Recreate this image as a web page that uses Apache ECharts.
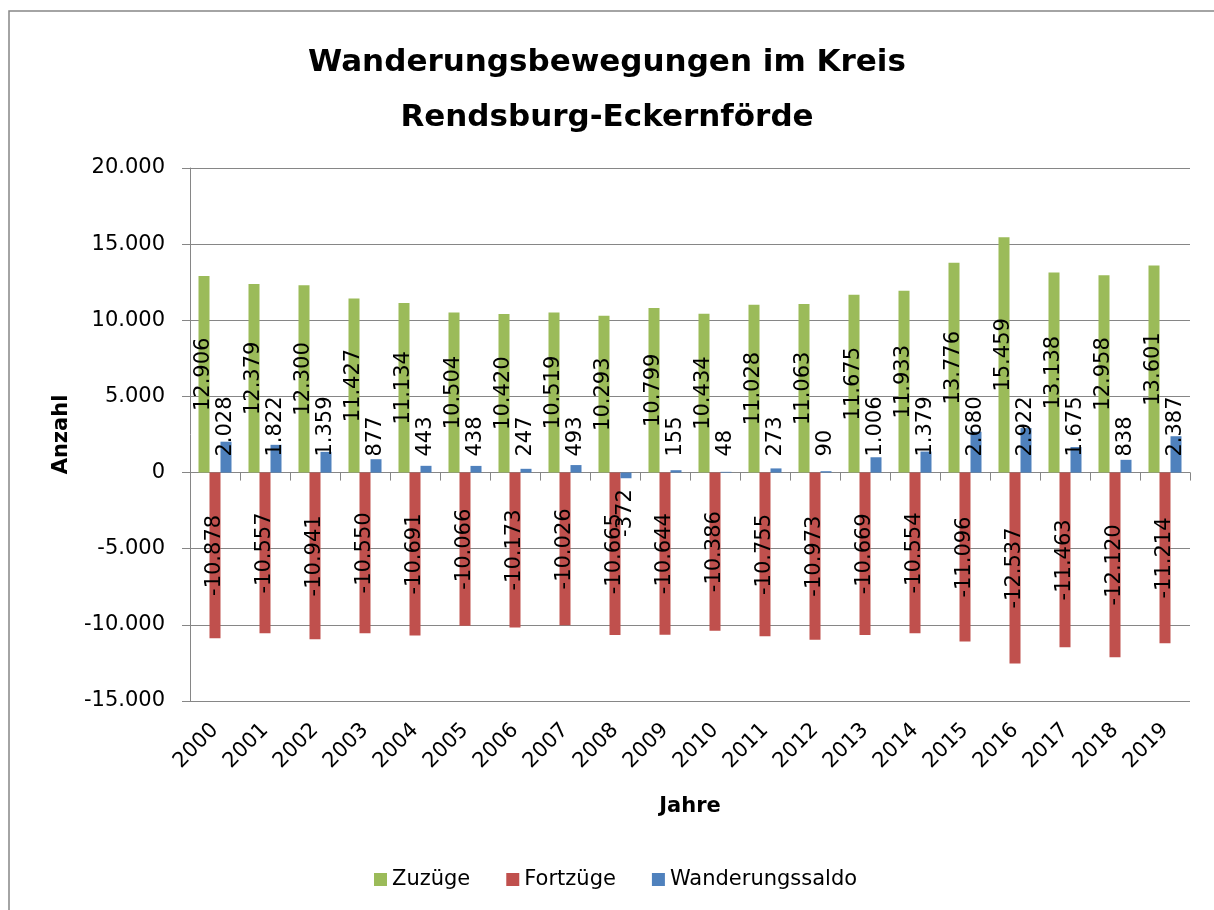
<!DOCTYPE html>
<html>
<head>
<meta charset="utf-8">
<script src="https://cdn.jsdelivr.net/npm/echarts@6/dist/echarts.min.js"></script>
<style>
  html, body { margin: 0; padding: 0; background: #fff; }
  #chart { width: 1214px; height: 910px; }
</style>
</head>
<body>
<div id="chart"></div>
<script>
const years = ['2000','2001','2002','2003','2004','2005','2006','2007','2008','2009','2010','2011','2012','2013','2014','2015','2016','2017','2018','2019'];
const zuzuege = [12906, 12379, 12300, 11427, 11134, 10504, 10420, 10519, 10293, 10799, 10434, 11028, 11063, 11675, 11933, 13776, 15459, 13138, 12958, 13601];
const fortzuege = [-10878, -10557, -10941, -10550, -10691, -10066, -10173, -10026, -10665, -10644, -10386, -10755, -10973, -10669, -10554, -11096, -12537, -11463, -12120, -11214];
const saldo = [2028, 1822, 1359, 877, 443, 438, 247, 493, -372, 155, 48, 273, 90, 1006, 1379, 2680, 2922, 1675, 838, 2387];
const seriesNames = ['Zuzüge', 'Fortzüge', 'Wanderungssaldo'];
const titleLines = ['Wanderungsbewegungen im Kreis', 'Rendsburg-Eckernförde'];

function fmt(v) {
  const s = Math.abs(v).toString().replace(/\B(?=(\d{3})+(?!\d))/g, '.');
  return (v < 0 ? '-' : '') + s;
}

const FONT = 'DejaVu Sans';
const GRAY = '#868686';
const chart = echarts.init(document.getElementById('chart'), null, { renderer: 'canvas' });

const saldoData = saldo.map(v => v < 0
  ? { value: v, label: { position: 'bottom', align: 'right', distance: 11 } }
  : v);

const option = {
  animation: false,
  backgroundColor: '#fff',
  textStyle: { fontFamily: FONT, color: '#000' },
  graphic: [{
    type: 'rect', z: -10, silent: true,
    shape: { x: 9, y: 11, width: 1300, height: 1000 },
    style: { fill: 'none', stroke: GRAY, lineWidth: 1.5 }
  }],
  title: {
    text: titleLines.join('\n'),
    left: 'center', top: 35, padding: 0,
    textStyle: { fontFamily: FONT, fontSize: 31, fontWeight: 'bold', color: '#000', lineHeight: 55 }
  },
  legend: {
    data: seriesNames,
    left: 374, top: 869, padding: 0,
    itemWidth: 13, itemHeight: 13, itemGap: 36,
    icon: 'rect',
    textStyle: { fontFamily: FONT, fontSize: 21, color: '#000' }
  },
  grid: { left: 190, right: 24, top: 168, bottom: 209, containLabel: false },
  xAxis: [{
    type: 'category', data: years, position: 'bottom',
    axisLine: { show: false, onZero: false },
    axisTick: { show: false },
    axisLabel: { rotate: 45, fontSize: 21, fontFamily: FONT, color: '#000', margin: 26, interval: 0 },
    name: 'Jahre', nameLocation: 'middle', nameGap: 95,
    nameTextStyle: { fontFamily: FONT, fontSize: 21, fontWeight: 'bold', color: '#000' }
  }, {
    type: 'category', data: years, position: 'bottom',
    axisLine: { show: true, onZero: true, lineStyle: { color: GRAY, width: 1 } },
    axisTick: { show: true, length: 8, lineStyle: { color: GRAY } },
    axisLabel: { show: false }
  }],
  yAxis: {
    type: 'value', min: -15000, max: 20000, interval: 5000,
    axisLine: { show: true, lineStyle: { color: GRAY, width: 1 } },
    axisTick: { show: true, length: 8, lineStyle: { color: GRAY } },
    splitLine: { show: true, lineStyle: { color: GRAY, width: 1 } },
    axisLabel: { fontSize: 21, fontFamily: FONT, color: '#000', margin: 25, formatter: v => fmt(v) },
    name: 'Anzahl', nameLocation: 'middle', nameGap: 118, nameRotate: 90,
    nameTextStyle: { fontFamily: FONT, fontSize: 21, fontWeight: 'bold', color: '#000' }
  },
  series: [{
    name: seriesNames[0], type: 'bar', xAxisIndex: 0, data: zuzuege,
    barWidth: 11, barGap: '0%',
    itemStyle: { color: '#9BBB59' },
    label: { show: true, position: 'inside', rotate: 90, fontSize: 21, fontFamily: FONT, color: '#000',
      formatter: p => fmt(p.value) }
  }, {
    name: seriesNames[1], type: 'bar', xAxisIndex: 0, data: fortzuege,
    barWidth: 11, barGap: '0%',
    itemStyle: { color: '#C0504D' },
    label: { show: true, position: 'inside', rotate: 90, fontSize: 21, fontFamily: FONT, color: '#000',
      formatter: p => fmt(p.value) }
  }, {
    name: seriesNames[2], type: 'bar', xAxisIndex: 0, data: saldoData,
    barWidth: 11, barGap: '0%',
    itemStyle: { color: '#4F81BD' },
    label: { show: true, position: 'insideBottom', distance: 16, rotate: 90, align: 'left', verticalAlign: 'middle',
      fontSize: 21, fontFamily: FONT, color: '#000', formatter: p => fmt(p.value) }
  }]
};
chart.setOption(option);
</script>
</body>
</html>
